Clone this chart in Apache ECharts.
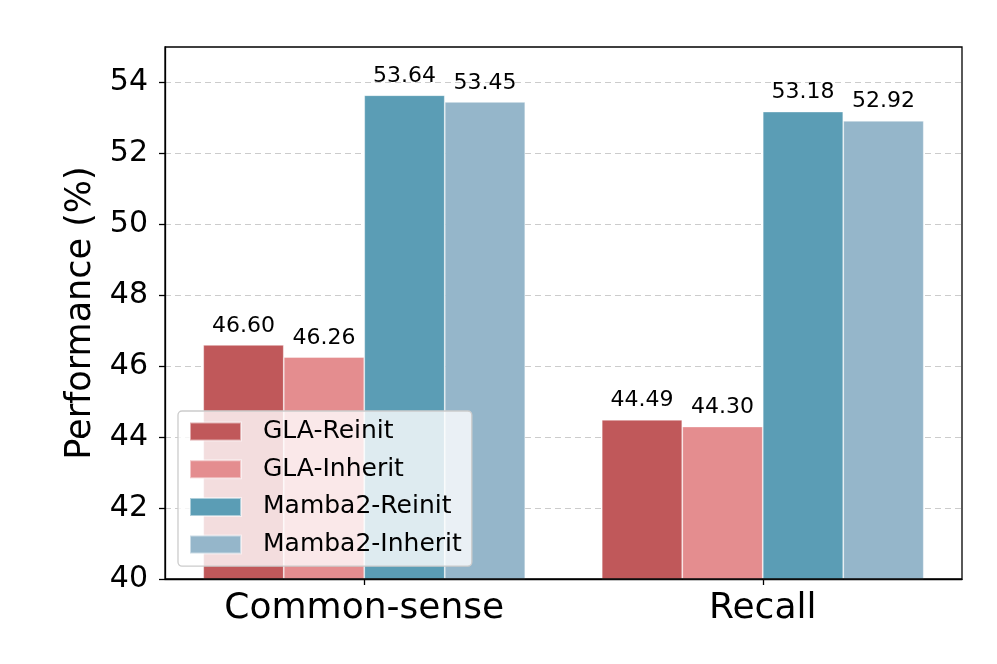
<!DOCTYPE html>
<html>
<head>
<meta charset="utf-8">
<script src="https://cdn.jsdelivr.net/npm/echarts@6/dist/echarts.min.js"></script>
<style>html,body{margin:0;padding:0;background:#fff;}#c{width:997px;height:664px;}</style>
</head>
<body>
<div id="c"></div>
<script>
const categories = ['Common-sense', 'Recall'];
const seriesNames = ['GLA-Reinit', 'GLA-Inherit', 'Mamba2-Reinit', 'Mamba2-Inherit'];
const glaReinit = [46.60, 44.49];
const glaInherit = [46.26, 44.30];
const mambaReinit = [53.64, 53.18];
const mambaInherit = [53.45, 52.92];
const yTicks = [40, 42, 44, 46, 48, 50, 52, 54];
const colors = ['#c0585a', '#e48d8f', '#5b9db5', '#95b6ca'];

const values = [glaReinit, glaInherit, mambaReinit, mambaInherit];
const FONT = 'DejaVu Sans';
const chart = echarts.init(document.getElementById('c'), null, {renderer: 'canvas'});
chart.setOption({
  backgroundColor: '#fff',
  animation: false,
  textStyle: {fontFamily: FONT},
  grid: {left: 165, right: 35, top: 47, bottom: 85, show: true, borderColor: '#000', borderWidth: 1.3, backgroundColor: 'transparent', z: 5},
  legend: {
    orient: 'vertical', left: 178, top: 411,
    data: seriesNames,
    icon: 'rect', itemWidth: 51, itemHeight: 18, itemGap: 12.7,
    padding: [8, 10, 9, 11],
    backgroundColor: 'rgba(255,255,255,0.8)',
    borderColor: '#cccccc', borderWidth: 1.3, borderRadius: 4,
    textStyle: {fontFamily: FONT, fontSize: 25, lineHeight: 25, color: '#000', padding: [0, 0, 0, 17]},
    z: 20
  },
  xAxis: {
    type: 'category', data: categories,
    axisLine: {show: true, lineStyle: {color: '#000', width: 1.3}},
    axisTick: {show: true, alignWithLabel: true, length: 6, lineStyle: {color: '#000', width: 1.3}},
    axisLabel: {fontFamily: FONT, fontSize: 36, color: '#000', margin: 12},
    splitLine: {show: false}
  },
  yAxis: {
    type: 'value', min: 40, max: 55, interval: 2,
    name: 'Performance (%)', nameLocation: 'middle', nameGap: 67,
    nameTextStyle: {fontFamily: FONT, fontSize: 35, color: '#000'},
    axisLine: {show: true, lineStyle: {color: '#000', width: 1.3}},
    axisTick: {show: true, length: 6, customValues: yTicks, lineStyle: {color: '#000', width: 1.3}},
    axisLabel: {fontFamily: FONT, fontSize: 30, color: '#000', margin: 17, customValues: yTicks},
    splitLine: {show: true, lineStyle: {color: '#cccccc', type: [6, 4], width: 1.2}}
  },
  series: seriesNames.map((n, i) => ({
    name: n, type: 'bar', data: values[i],
    barWidth: '20.2%', barGap: '0%',
    itemStyle: {color: colors[i], borderColor: 'rgba(255,255,255,0.5)', borderWidth: 0.8},
    label: {show: true, position: 'top', distance: 8, fontFamily: FONT, fontSize: 22, color: '#000',
      formatter: p => p.value.toFixed(2)}
  }))
});
</script>
</body>
</html>
